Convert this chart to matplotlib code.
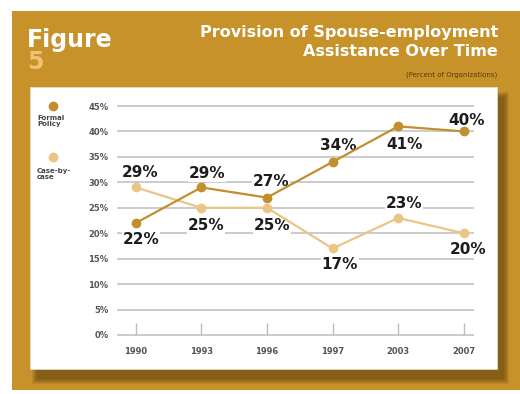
import matplotlib
matplotlib.use("Agg")
import matplotlib.pyplot as plt
from matplotlib.patches import Rectangle

# data
years = ["1990", "1993", "1996", "1997", "2003", "2007"]
formal = [22, 29, 27, 34, 41, 40]
casebycase = [29, 25, 25, 17, 23, 20]
yticks = [0, 5, 10, 15, 20, 25, 30, 35, 40, 45]

# label offsets (pixels) relative to each point
formal_off = [(5, -16), (6, 14), (4, 16), (6, 16), (6, -18), (3, 11)]
case_off = [(4, 15), (5, -18), (5, -18), (7, -16), (6, 14), (4, -16)]

W, H = 520, 394
gold = "#C8922B"
c_formal = "#C38E2E"
c_case = "#EBC584"
txt_dark = "#1c1c1c"

def fx(px):
    return px / W

def fy(py):
    return 1 - py / H

fig = plt.figure(figsize=(W / 100, H / 100), dpi=100)
fig.patch.set_facecolor("white")

# gold frame
fig.patches.append(Rectangle((fx(12), fy(390)), fx(520) - fx(12), fy(11) - fy(390),
                             transform=fig.transFigure, fc=gold, ec="none", zorder=-3))
# soft shadow under the white card
for k in range(6):
    fig.patches.append(Rectangle((fx(30 + 7 - k), fy(369 + 10 + k)),
                                 fx(497 + 7 + k) - fx(30 + 7 - k), fy(87 + 10 - k) - fy(369 + 10 + k),
                                 transform=fig.transFigure, fc="#4a2e05", ec="none",
                                 alpha=0.11, zorder=-2))
fig.patches.append(Rectangle((fx(30), fy(369)), fx(497) - fx(30), fy(87) - fy(369),
                             transform=fig.transFigure, fc="white", ec="#e8e0d0", lw=0.5, zorder=-1))

# titles
fig.text(fx(27), fy(40), "Figure", color="white", fontsize=17, fontweight="bold",
         ha="left", va="center")
fig.text(fx(27), fy(62), "5", color="#EFC273", fontsize=17, fontweight="bold",
         ha="left", va="center")
fig.text(fx(498), fy(32), "Provision of Spouse-employment", color="white", fontsize=11.5,
         fontweight="bold", ha="right", va="center")
fig.text(fx(498), fy(52), "Assistance Over Time", color="white", fontsize=11.5,
         fontweight="bold", ha="right", va="center")
fig.text(fx(497), fy(75), "(Percent of Organizations)", color="#5a3c0a", fontsize=5,
         ha="right", va="center")

# plot area
ax = fig.add_axes([fx(118), fy(335), fx(473) - fx(118), fy(106) - fy(335)])
ax.set_zorder(2)
ax.set_facecolor("none")
x = list(range(len(years)))
ax.set_xlim(-0.27, 5.14)
ax.set_ylim(0, 45)
for v in yticks:
    ax.axhline(v, color="#cccccc", lw=1.4, zorder=1, clip_on=False)
for s in ax.spines.values():
    s.set_visible(False)
ax.set_yticks(yticks)
ax.set_yticklabels([f"{v}%" for v in yticks])
ax.set_xticks(x)
ax.set_xticklabels(years)
ax.tick_params(axis="y", length=0, pad=7, labelsize=6, labelcolor="#555555")
ax.tick_params(axis="x", direction="in", length=8.5, width=1, color="#bdbdbd",
               pad=9, labelsize=6, labelcolor="#555555")
for lab in ax.get_xticklabels() + ax.get_yticklabels():
    lab.set_fontweight("bold")

ax.plot(x, casebycase, color=c_case, lw=1.6, marker="o", ms=6, zorder=3, clip_on=False)
ax.plot(x, formal, color=c_formal, lw=1.6, marker="o", ms=6, zorder=4, clip_on=False)

# value labels sit above the grid but under the lines
for xi, v, (dx, dy) in zip(x, formal, formal_off):
    ax.annotate(f"{v}%", (xi, v), xytext=(dx, dy), textcoords="offset pixels",
                ha="center", va="center", fontsize=11, fontweight="heavy", color=txt_dark,
                bbox=dict(fc="white", ec="none", pad=0.5), zorder=2)
for xi, v, (dx, dy) in zip(x, casebycase, case_off):
    ax.annotate(f"{v}%", (xi, v), xytext=(dx, dy), textcoords="offset pixels",
                ha="center", va="center", fontsize=11, fontweight="heavy", color=txt_dark,
                bbox=dict(fc="white", ec="none", pad=0.5), zorder=2)

# legend on the left of the card
fig.lines.append(plt.Line2D([fx(53)], [fy(106)], transform=fig.transFigure, marker="o",
                            ms=6, color=c_formal, ls="none"))
fig.text(fx(37), fy(121), "Formal\nPolicy", fontsize=5, fontweight="bold", color="#444444",
         ha="left", va="center", linespacing=1.1)
fig.lines.append(plt.Line2D([fx(53)], [fy(157)], transform=fig.transFigure, marker="o",
                            ms=6, color=c_case, ls="none"))
fig.text(fx(37), fy(174), "Case-by-\ncase", fontsize=5, fontweight="bold", color="#444444",
         ha="left", va="center", linespacing=1.1)

fig.savefig("out.png", dpi=100)
